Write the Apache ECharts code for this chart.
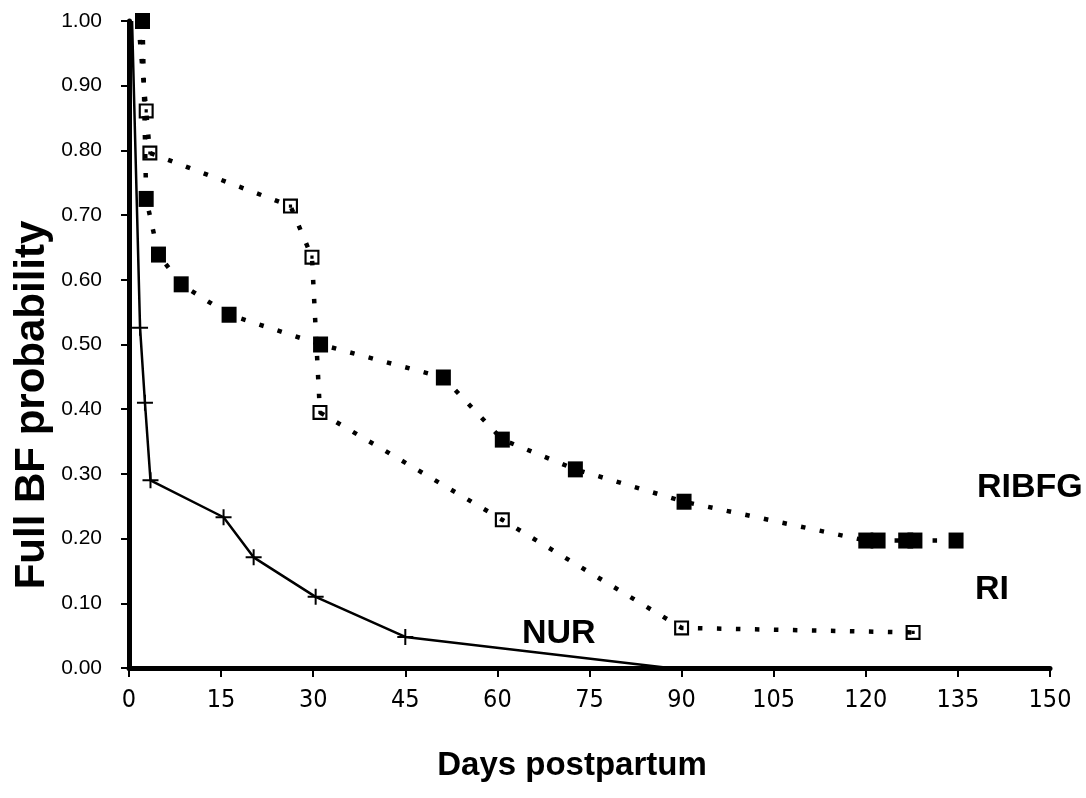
<!DOCTYPE html>
<html><head><meta charset="utf-8">
<script src="https://cdn.jsdelivr.net/npm/echarts@6/dist/echarts.min.js"></script>
<style>html,body{margin:0;padding:0;background:#fff}#c{width:1086px;height:798px}</style>
</head><body><div id="c"></div>
<script>
// Data
const ribfgDays = [2.2, 2.8, 4.8, 8.5, 16.3, 31.2, 51.2, 60.8, 72.7, 90.4, 120, 122, 126.5, 128, 134.7];
const ribfgProb = [1.00, 0.725, 0.639, 0.593, 0.546, 0.50, 0.449, 0.353, 0.307, 0.257, 0.197, 0.197, 0.197, 0.197, 0.197];
const riDays = [1.5, 2.8, 3.4, 26.3, 29.8, 31.1, 60.8, 90.0, 127.7];
const riProb = [1.00, 0.861, 0.796, 0.714, 0.635, 0.395, 0.229, 0.062, 0.055];
const nurDays = [0.5, 1.8, 2.6, 3.5, 15.4, 20.3, 30.4, 45.0, 88];
const nurProb = [1.00, 0.526, 0.41, 0.29, 0.233, 0.171, 0.110, 0.048, 0.0];
const seriesNames = ['RIBFG', 'RI', 'NUR'];
const xTitle = 'Days postpartum';
const yTitle = 'Full BF probability';

const FONT = "'Liberation Sans', Arial, sans-serif";
const NARROW = "'Liberation Sans Narrow', 'DejaVu Sans Condensed', 'Liberation Sans', sans-serif";

function pairs(xs, ys, hideFirst, hideLast) {
  return xs.map((x, i) => {
    const item = { value: [x, ys[i]] };
    if ((hideFirst && i === 0) || (hideLast && i === xs.length - 1)) item.symbol = 'none';
    return item;
  });
}

const openSq = 'path://M0,0H14V14H0Z M2,2V12H12V2Z M5.5,5.5H8.5V8.5H5.5Z';
const plus = 'path://M0,7H16V9H0Z M7,0H9V16H7Z';

const chart = echarts.init(document.getElementById('c'), null, { renderer: 'canvas' });
chart.setOption({
  backgroundColor: '#fff',
  animation: false,
  grid: { left: 129, right: 36, top: 21, bottom: 130 },
  xAxis: {
    type: 'value', min: 0, max: 150, interval: 15,
    axisLine: { show: true, onZero: true, lineStyle: { color: '#000', width: 5 } },
    axisTick: { show: true, length: 9, lineStyle: { color: '#000', width: 2 } },
    axisLabel: { color: '#000', fontSize: 25, fontFamily: NARROW, margin: 20 },
    splitLine: { show: false }
  },
  yAxis: {
    type: 'value', min: 0, max: 1, interval: 0.1,
    axisLine: { show: true, lineStyle: { color: '#000', width: 5 } },
    axisTick: { show: true, length: 8, lineStyle: { color: '#000', width: 2 } },
    axisLabel: { color: '#000', fontSize: 21, fontFamily: FONT, margin: 27, formatter: v => v.toFixed(2) },
    splitLine: { show: false }
  },
  graphic: [
    { type: 'text', x: 572, y: 766, style: { text: xTitle, font: 'bold 33px ' + FONT, fill: '#000', align: 'center', verticalAlign: 'middle' } },
    { type: 'text', x: 32, y: 405, rotation: Math.PI / 2, style: { text: yTitle, font: 'bold 42px ' + FONT, fill: '#000', align: 'center', verticalAlign: 'middle' } },
    { type: 'text', x: 977, y: 488, style: { text: seriesNames[0], font: 'bold 34px ' + FONT, fill: '#000', align: 'left', verticalAlign: 'middle' } },
    { type: 'text', x: 975, y: 590, style: { text: seriesNames[1], font: 'bold 34px ' + FONT, fill: '#000', align: 'left', verticalAlign: 'middle' } },
    { type: 'text', x: 522, y: 634, style: { text: seriesNames[2], font: 'bold 34px ' + FONT, fill: '#000', align: 'left', verticalAlign: 'middle' } }
  ],
  series: [
    {
      name: seriesNames[0], type: 'line', data: pairs(ribfgDays, ribfgProb, false, false),
      symbol: 'rect', symbolSize: [15, 16], showAllSymbol: true,
      itemStyle: { color: '#000' },
      lineStyle: { color: '#000', width: 4.5, type: [4.5, 14.5] },
      z: 3
    },
    {
      name: seriesNames[1], type: 'line', data: pairs(riDays, riProb, true, false),
      symbol: openSq, symbolSize: 15, showAllSymbol: true,
      itemStyle: { color: '#000' },
      lineStyle: { color: '#000', width: 4.5, type: [4.5, 14.5] },
      z: 3
    },
    {
      name: seriesNames[2], type: 'line', data: pairs(nurDays, nurProb, true, true),
      symbol: plus, symbolSize: 16, showAllSymbol: true,
      itemStyle: { color: '#000' },
      lineStyle: { color: '#000', width: 2.5, type: 'solid' },
      z: 2
    }
  ]
});
</script>
</body></html>
